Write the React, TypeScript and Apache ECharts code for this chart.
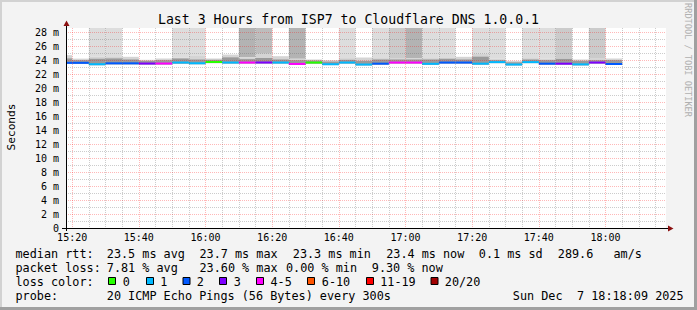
import React, { useEffect, useRef } from 'react';
import * as echarts from 'echarts';

const MONO = '"DejaVu Sans Mono", monospace';

// ---- data ----
const START_TIME = '15:18:09';
const END_TIME = '18:18:09';
const STEP_MIN = 5;
const Y_MAX = 28.6;

const binStarts = ['15:15', '15:20', '15:25', '15:30', '15:35', '15:40', '15:45', '15:50', '15:55',
  '16:00', '16:05', '16:10', '16:15', '16:20', '16:25', '16:30', '16:35', '16:40', '16:45', '16:50', '16:55',
  '17:00', '17:05', '17:10', '17:15', '17:20', '17:25', '17:30', '17:35', '17:40', '17:45', '17:50', '17:55', '18:00'];

// median rtt (ms)
const medianMs = [23.62, 23.62, 23.42, 23.55, 23.55, 23.52, 23.52, 23.66, 23.56, 23.74, 23.66, 23.66, 23.66, 23.66,
  23.46, 23.66, 23.42, 23.66, 23.38, 23.50, 23.66, 23.66, 23.48, 23.66, 23.66, 23.50, 23.72, 23.38, 23.72, 23.50,
  23.50, 23.40, 23.66, 23.45];
// loss colour class (index into lossColors)
const lossIdx = [2, 2, 1, 2, 2, 3, 4, 1, 1, 0, 1, 4, 3, 1, 4, 0, 1, 1, 1, 2, 4, 4, 1, 2, 2, 1, 1, 1, 1, 2, 3, 1, 3, 2];
// loss smoke level reaching the top (0 = none)
const lossShade = [0, 0, 1, 1, 0, 0, 0, 1, 1, 0, 0, 4, 3, 0, 4, 0, 0, 1, 0, 1, 2, 4, 1, 1, 0, 1, 1, 0, 1, 1, 2, 0, 2, 0];
// smoke (ms)
const smokeLo = [23.48, 23.48, 23.28, 23.40, 23.40, 23.38, 23.38, 23.50, 23.42, 23.58, 23.52, 23.52, 23.52, 23.52,
  23.32, 23.50, 23.30, 23.52, 23.26, 23.36, 23.52, 23.52, 23.34, 23.52, 23.52, 23.36, 23.58, 23.26, 23.58, 23.36,
  23.36, 23.26, 23.52, 23.32];
const smokeMid = [24.25, 24.00, 24.20, 24.25, 24.10, 23.90, 24.00, 24.24, 24.10, 24.05, 24.40, 24.15, 24.30, 24.10,
  24.00, 23.95, 23.80, 24.05, 23.90, 24.10, 24.10, 24.10, 24.10, 24.20, 24.10, 24.50, 24.00, 23.70, 24.10, 24.00,
  24.20, 23.90, 24.00, 24.00];
const smokeHi = [24.72, 24.22, 24.50, 24.45, 24.48, 24.05, 24.24, 24.40, 24.70, 24.24, 24.80, 24.40, 24.90, 24.57,
  24.20, 24.10, 24.00, 24.30, 24.38, 24.30, 24.30, 24.30, 24.30, 24.30, 24.48, 24.95, 24.20, 23.90, 24.30, 24.20,
  24.30, 24.10, 24.20, 24.24];

const majorTimeTicks = ['15:20', '15:40', '16:00', '16:20', '16:40', '17:00', '17:20', '17:40', '18:00'];
const minorTimeTicks = ['15:25', '15:30', '15:35', '15:45', '15:50', '15:55', '16:05', '16:10', '16:15', '16:25',
  '16:30', '16:35', '16:45', '16:50', '16:55', '17:05', '17:10', '17:15', '17:25', '17:30', '17:35', '17:45',
  '17:50', '17:55', '18:05', '18:10', '18:15'];
const majorY = [0, 2, 4, 6, 8, 10, 12, 14, 16, 18, 20, 22, 24, 26, 28];
const minorY = [1, 3, 5, 7, 9, 11, 13, 15, 17, 19, 21, 23, 25, 27];

const lossColors = ['#26ff00', '#00b8ff', '#0059ff', '#7e00ff', '#ff00fe', '#ff5500', '#ff0000', '#a10000'];
const lossLabels = ['0', '1', '2', '3', '4-5', '6-10', '11-19', '20/20'];
const shadeColors = ['#ffffff', '#dddddd', '#cbcbcb', '#bdbdbd', '#b3b3b3'];

const titleText = 'Last 3 Hours from ISP7 to Cloudflare DNS 1.0.0.1';
const rttStats = ['23.5 ms avg', '23.7 ms max', '23.3 ms min', '23.4 ms now', '0.1 ms sd', '289.6', 'am/s'];
const lossStats = ['7.81 % avg', '23.60 % max', '0.00 % min', '9.30 % now'];
const probeText = '20 ICMP Echo Pings (56 Bytes) every 300s';
const dateParts = ['Sun Dec', '7 18:18:09 2025'];

// ---- helpers ----
const toMin = (s: string) => {
  const p = s.split(':').map(Number);
  return p[0] * 60 + p[1] + (p[2] || 0) / 60;
};
const fmtTime = (v: number) => {
  const h = Math.floor(v / 60 + 1e-9);
  const m = Math.round(v - h * 60);
  return `${h}:${String(m).padStart(2, '0')}`;
};

const X_MIN = toMin(START_TIME);
const X_MAX = toMin(END_TIME);

const bins = binStarts.map((s, i) => ({ t0: toMin(s), t1: toMin(s) + STEP_MIN, i }));

const rectRender = (fillOf: (api: any) => string) => (params: any, api: any) => {
  const a = api.coord([api.value(0), api.value(2)]);
  const b = api.coord([api.value(1), api.value(3)]);
  return {
    type: 'rect',
    shape: { x: a[0], y: b[1], width: b[0] - a[0], height: a[1] - b[1] },
    style: { fill: fillOf(api) },
  };
};

const medianRender = (params: any, api: any) => {
  const a = api.coord([api.value(0), api.value(2)]);
  const b = api.coord([api.value(1), api.value(2)]);
  return {
    type: 'rect',
    shape: { x: a[0], y: a[1] - 1, width: b[0] - a[0], height: 2 },
    style: { fill: lossColors[api.value(3)] },
  };
};

const txt = (x: number, y: number, text: string, size: number, extra: any = {}) => ({
  type: 'text',
  x,
  y,
  z: 100,
  silent: true,
  style: { text, fill: '#000', fontFamily: MONO, fontSize: size, verticalAlign: 'middle', align: 'left', ...extra },
});

export default function App() {
  const ref = useRef<HTMLDivElement>(null);
  useEffect(() => {
    const chart = echarts.init(ref.current!, null, { renderer: 'svg' });
    const gridMinor = { color: 'rgba(95,95,95,0.32)', width: 1, type: [1, 1] as any };
    const gridMajor = { color: 'rgba(255,0,0,0.28)', width: 1, type: [1, 1] as any };
    const majorX = majorTimeTicks.map(toMin);
    const minorX = minorTimeTicks.map(toMin);

    const L = 11.8;
    const graphic: any[] = [
      // frame shading
      { type: 'rect', z: 100, shape: { x: 0, y: 0, width: 697, height: 2 }, style: { fill: '#d2d2d2' } },
      { type: 'rect', z: 100, shape: { x: 0, y: 0, width: 2, height: 310 }, style: { fill: '#d2d2d2' } },
      { type: 'rect', z: 100, shape: { x: 0, y: 307, width: 697, height: 3 }, style: { fill: '#a0a0a0' } },
      { type: 'rect', z: 100, shape: { x: 694, y: 0, width: 3, height: 310 }, style: { fill: '#a0a0a0' } },
      // axes
      { type: 'line', z: 100, shape: { x1: 66.5, y1: 231, x2: 66.5, y2: 25 }, style: { stroke: '#000', lineWidth: 1 } },
      { type: 'line', z: 100, shape: { x1: 62, y1: 228.5, x2: 669, y2: 228.5 }, style: { stroke: '#000', lineWidth: 1 } },
      { type: 'polygon', z: 101, shape: { points: [[63.5, 26], [69.5, 26], [66.5, 20.5]] }, style: { fill: '#8b1010' } },
      { type: 'polygon', z: 101, shape: { points: [[668, 225.5], [668, 231.5], [673.5, 228.5]] }, style: { fill: '#8b1010' } },
      // titles
      txt(348.5, 19.5, titleText, 13.2, { align: 'center' }),
      { ...txt(11.5, 127, 'Seconds', 11.2, { align: 'center' }), rotation: Math.PI / 2 },
      { ...txt(687.5, 60, 'RRDTOOL / TOBI OETIKER', 8.6, { align: 'center', fill: '#b0b0b0' }), rotation: -Math.PI / 2 },
      // legend line 1
      txt(15.5, 254, 'median rtt:', L),
      ...[106.8, 199.5, 292.8, 386.2, 478.8, 557.8, 613.5].map((x, k) => txt(x, 254, rttStats[k], L)),
      // legend line 2
      txt(15.5, 268, 'packet loss:', L),
      ...[106.8, 199.5, 286, 371.8].map((x, k) => txt(x, 268, lossStats[k], L)),
      // legend line 3
      txt(15.5, 282, 'loss color:', L),
      ...[108, 146, 182.5, 219, 256, 307, 366, 430.5].map((x, k) => ({
        type: 'rect', z: 100, shape: { x: x + 0.5, y: 277.5, width: 7, height: 7 },
        style: { fill: lossColors[k], stroke: '#000', lineWidth: 1 },
      })),
      ...[122.8, 160.2, 196.8, 233.8, 270.5, 321.8, 380.2, 444.8].map((x, k) => txt(x, 282, lossLabels[k], L)),
      // legend line 4
      txt(15.5, 296, 'probe:', L),
      txt(106.8, 296, probeText, L),
      txt(512.8, 296, dateParts[0], L),
      txt(577, 296, dateParts[1], L),
    ];

    const option: any = {
      animation: false,
      backgroundColor: '#f3f3f3',
      textStyle: { fontFamily: MONO },
      grid: {
        left: 66, top: 28, width: 600, height: 200, show: true, backgroundColor: '#ffffff', borderWidth: 0,
        containLabel: false, outerBoundsMode: 'none',
      },
      xAxis: [
        {
          type: 'value', min: X_MIN, max: X_MAX, z: 5, position: 'bottom',
          axisLine: { show: false },
          axisTick: { show: false, customValues: majorX },
          axisLabel: {
            customValues: majorX, formatter: (v: number) => fmtTime(v), fontFamily: MONO, fontSize: 10,
            color: '#000', margin: 4,
          },
          splitLine: { show: true, lineStyle: gridMajor },
        },
        {
          type: 'value', min: X_MIN, max: X_MAX, z: 4, position: 'bottom',
          axisLine: { show: false },
          axisTick: { show: false, customValues: minorX },
          axisLabel: { show: false, customValues: minorX },
          splitLine: { show: true, lineStyle: gridMinor },
        },
      ],
      yAxis: [
        {
          type: 'value', min: 0, max: Y_MAX, z: 5,
          axisLine: { show: false },
          axisTick: { show: false, customValues: majorY },
          axisLabel: {
            customValues: majorY, formatter: (v: number) => (v === 0 ? '0' : `${v} m`), fontFamily: MONO,
            fontSize: 10, color: '#000', margin: 7,
          },
          splitLine: { show: true, lineStyle: gridMajor },
        },
        {
          type: 'value', min: 0, max: Y_MAX, z: 4,
          axisLine: { show: false },
          axisTick: { show: false, customValues: minorY },
          axisLabel: { show: false, customValues: minorY },
          splitLine: { show: true, lineStyle: gridMinor },
        },
      ],
      series: [
        {
          type: 'custom', name: 'loss', clip: true, z: 2, silent: true,
          encode: { x: [0, 1], y: [2, 3] },
          renderItem: rectRender((api) => shadeColors[api.value(4)]),
          data: bins.filter((b) => lossShade[b.i] > 0).map((b) => [b.t0, b.t1, smokeHi[b.i], Y_MAX, lossShade[b.i]]),
        },
        {
          type: 'custom', name: 'smoke', clip: true, z: 2, silent: true,
          encode: { x: [0, 1], y: [2, 3] },
          renderItem: rectRender(() => '#d4d4d4'),
          data: bins.map((b) => [b.t0, b.t1, smokeLo[b.i], smokeHi[b.i]]),
        },
        {
          type: 'custom', name: 'smokeInner', clip: true, z: 2, silent: true,
          encode: { x: [0, 1], y: [2, 3] },
          renderItem: rectRender(() => '#9a9a9a'),
          data: bins.map((b) => [b.t0, b.t1, smokeLo[b.i], smokeMid[b.i]]),
        },
        {
          type: 'custom', name: 'median', clip: true, z: 3, silent: true,
          encode: { x: [0, 1], y: 2 },
          renderItem: medianRender,
          data: bins.map((b) => [b.t0, b.t1, medianMs[b.i], lossIdx[b.i]]),
        },
      ],
      graphic,
    };
    chart.setOption(option);
    return () => chart.dispose();
  }, []);
  return <div ref={ref} style={{ position: 'fixed', left: 0, top: 0, width: 697, height: 310 }} />;
}
